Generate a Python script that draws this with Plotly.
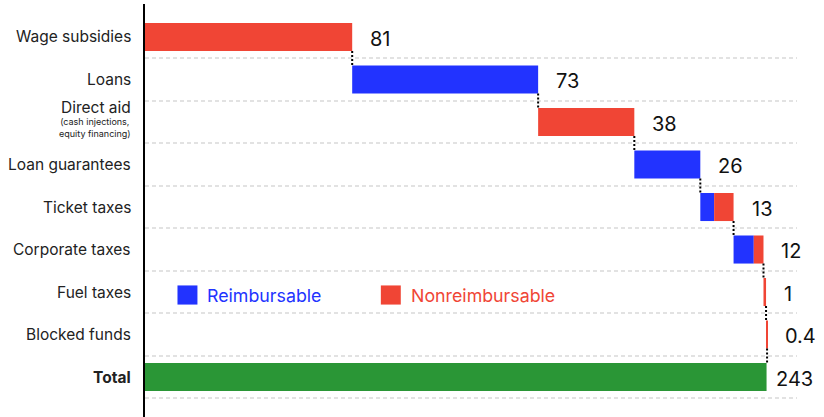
import plotly.graph_objects as go

categories = ["Wage subsidies", "Loans", "Direct aid", "Loan guarantees", "Ticket taxes",
              "Corporate taxes", "Fuel taxes", "Blocked funds", "Total"]
category_notes = {2: "(cash injections,<br>equity financing)"}
reimbursable = [0, 72.7, 0, 25.8, 5.4, 7.9, 0, 0]
nonreimbursable = [81, 0, 37.6, 0, 7.6, 3.8, 1.0, 0.4]
total_value = 243

RED = "#F04535"
BLUE = "#2233FF"
GREEN = "#2A9636"
FONT = "Inter"

n = len(reimbursable)
rows = list(range(n))
starts, ends = [], []
acc = 0.0
for r, nr in zip(reimbursable, nonreimbursable):
    starts.append(acc)
    acc += r + nr
    ends.append(acc)

BW = 0.66
fig = go.Figure()
fig.add_trace(go.Bar(y=rows, x=reimbursable, base=starts, orientation="h",
                     marker=dict(color=BLUE, line=dict(width=0)), width=BW,
                     hoverinfo="skip", showlegend=False))
fig.add_trace(go.Bar(y=rows, x=nonreimbursable,
                     base=[s + r for s, r in zip(starts, reimbursable)], orientation="h",
                     marker=dict(color=RED, line=dict(width=0)), width=BW,
                     hoverinfo="skip", showlegend=False))
fig.add_trace(go.Bar(y=[n], x=[total_value], base=[0], orientation="h",
                     marker=dict(color=GREEN, line=dict(width=0)), width=BW,
                     hoverinfo="skip", showlegend=False))

# dotted connectors
for i in range(n):
    fig.add_trace(go.Scatter(x=[ends[i], ends[i]], y=[i + BW / 2, i + 1 - BW / 2],
                             mode="lines", line=dict(color="black", width=2, dash="2px,2px"),
                             hoverinfo="skip", showlegend=False))

# value labels
values = [r + nr for r, nr in zip(reimbursable, nonreimbursable)] + [total_value]
label_x = ends + [total_value]
for i, (v, xv) in enumerate(zip(values, label_x)):
    txt = f"{v:.0f}" if v >= 1 else f"{v:.1f}"
    fig.add_annotation(x=xv, y=i + 0.04, text=txt, showarrow=False, xanchor="left",
                       xshift=16 if i < n else 7, font=dict(family=FONT, size=20, color="#111"))

# category labels
for i, name in enumerate(categories):
    if i in category_notes:
        fig.add_annotation(xref="paper", x=0, y=i, text=name, showarrow=False, xanchor="right",
                           yanchor="middle", xshift=-12, yshift=15,
                           font=dict(family=FONT, size=15.5, color="#222"))
        fig.add_annotation(xref="paper", x=0, y=i, text=category_notes[i], showarrow=False,
                           xanchor="right", yanchor="middle", xshift=-12, yshift=-5,
                           font=dict(family=FONT, size=9, color="#222"))
    else:
        txt = f"<b>{name}</b>" if i == n else name
        fig.add_annotation(xref="paper", x=0, y=i, text=txt, showarrow=False, xanchor="right",
                           yanchor="middle", xshift=-12,
                           font=dict(family=FONT, size=15.5, color="#222"))

# legend
leg_row = 6.07
for x0, label, col in [(12.7, "Reimbursable", BLUE), (92.2, "Nonreimbursable", RED)]:
    fig.add_shape(type="rect", xref="x", yref="y", x0=x0, x1=x0 + 7.8,
                  y0=leg_row - 0.225, y1=leg_row + 0.225, fillcolor=col, line=dict(width=0))
    fig.add_annotation(x=x0 + 10.9, y=leg_row, text=label, showarrow=False, xanchor="left",
                       font=dict(family=FONT, size=17.8, color=col))

fig.update_layout(
    width=824, height=417, margin=dict(l=145, r=27, t=4, b=0),
    plot_bgcolor="white", paper_bgcolor="white", barmode="overlay",
    font=dict(family=FONT, size=15, color="#222"),
    xaxis=dict(range=[0, 254.9], showgrid=False, zeroline=False, showticklabels=False,
               ticks="", fixedrange=True, automargin=False),
    yaxis=dict(range=[8.94, -0.776], tickmode="array", tickvals=list(range(n + 1)),
               showticklabels=False, showgrid=False, zeroline=False, showline=True,
               linecolor="black", linewidth=2, ticks="", automargin=False,
               minor=dict(tickmode="array", tickvals=[i + 0.5 for i in range(n + 1)],
                          showgrid=True, gridcolor="#E2E2E2", gridwidth=2, griddash="4px,3px",
                          ticks="")),
)

fig.write_html("out.html", config={"displayModeBar": False},
               post_script="document.body.style.margin='0px';")
